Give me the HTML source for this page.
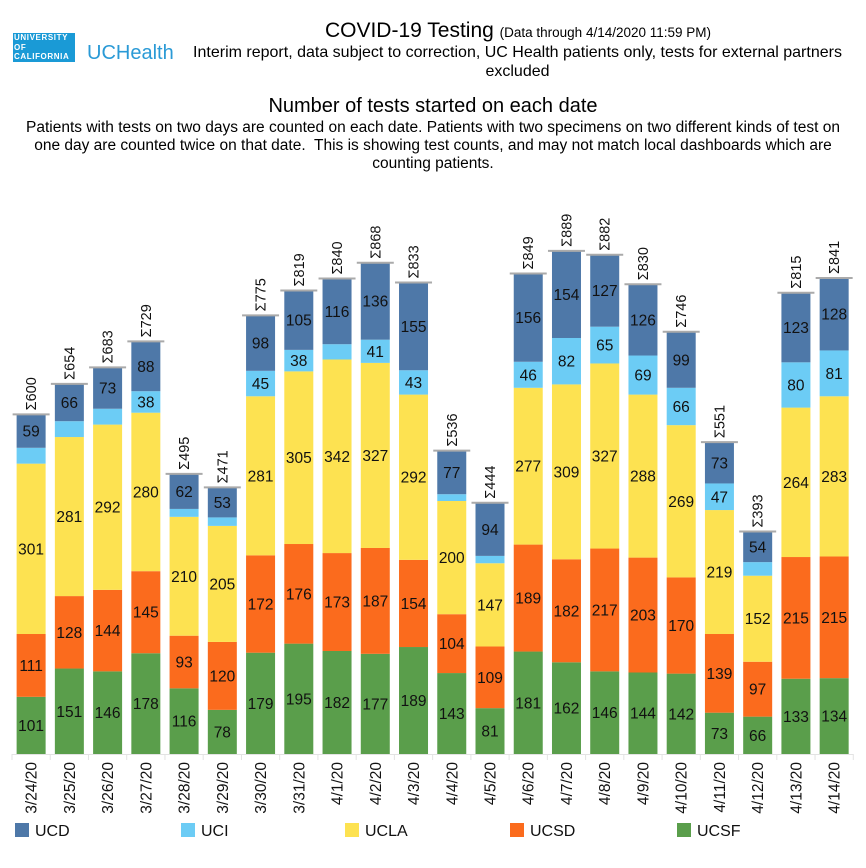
<!DOCTYPE html>
<html><head><meta charset="utf-8"><style>
body{margin:0;background:#fff;font-family:"Liberation Sans",sans-serif;}
#wrap{position:relative;width:866px;height:868px;overflow:hidden;}
.t{position:absolute;text-align:center;color:#000;white-space:nowrap;}
</style></head><body>
<div id="wrap">
<div style="position:absolute;left:13px;top:33px;width:61px;height:29px;background:#1a9ad6;color:#fff;font-size:8px;font-weight:bold;line-height:9.5px;letter-spacing:0.6px;padding-left:1px;">UNIVERSITY<br>OF<br>CALIFORNIA</div>
<div class="t" style="left:87px;top:42px;font-size:20px;color:#2a9ad6;">UCHealth</div>
<div class="t" style="left:218px;width:600px;top:19px;font-size:21px;">COVID-19 Testing <span style="font-size:13.5px">(Data through 4/14/2020 11:59 PM)</span></div>
<div class="t" style="left:185px;width:665px;top:43px;font-size:16px;line-height:19px;white-space:normal;">Interim report, data subject to correction, UC Health patients only, tests for external partners excluded</div>
<div class="t" style="left:0;width:866px;top:95px;font-size:20px;">Number of tests started on each date</div>
<div class="t" style="left:24px;width:818px;top:119px;font-size:15.5px;line-height:18px;white-space:normal;">Patients with tests on two days are counted on each date. Patients with two specimens on two different kinds of test on one day are counted twice on that date.&nbsp; This is showing test counts, and may not match local dashboards which are counting patients.</div>
<svg id="chart" width="866" height="868" style="position:absolute;left:0;top:0"></svg>
</div>
<script>
const dates=["3/24/20","3/25/20","3/26/20","3/27/20","3/28/20","3/29/20","3/30/20","3/31/20","4/1/20","4/2/20","4/3/20","4/4/20","4/5/20","4/6/20","4/7/20","4/8/20","4/9/20","4/10/20","4/11/20","4/12/20","4/13/20","4/14/20"];
const ucsf=[101,151,146,178,116,78,179,195,182,177,189,143,81,181,162,146,144,142,73,66,133,134];
const ucsd=[111,128,144,145,93,120,172,176,173,187,154,104,109,189,182,217,203,170,139,97,215,215];
const ucla=[301,281,292,280,210,205,281,305,342,327,292,200,147,277,309,327,288,269,219,152,264,283];
const uci=[28,28,28,38,14,15,45,38,27,41,43,12,13,46,82,65,69,66,47,24,80,81];
const ucd=[59,66,73,88,62,53,98,105,116,136,155,77,94,156,154,127,126,99,73,54,123,128];
const seriesNames=["UCSF","UCSD","UCLA","UCI","UCD"];
const seriesData=[ucsf,ucsd,ucla,uci,ucd];
const colors=["#5a9e4b","#fb6b1d","#fde251","#6cccf5","#4e78a8"];
const NS="http://www.w3.org/2000/svg";
const svg=document.getElementById('chart');
const baseY=754,scale=0.566,x0=12,slot=38.24,bw=29;
const xPos=i=>x0+i*slot+(slot-bw)/2;
const yLen=v=>v*scale;
function mk(tag,attrs){const e=document.createElementNS(NS,tag);for(const k in attrs)e.setAttribute(k,attrs[k]);svg.appendChild(e);return e;}
let ax=mk('line',{x1:x0,x2:x0+22*slot,y1:baseY+0.5,y2:baseY+0.5,stroke:'#e3e3e3'});


for(let i=0;i<=22;i++){const t=mk('line',{x1:x0+i*slot,x2:x0+i*slot,y1:baseY,y2:baseY+6,stroke:'#e3e3e3'});

}
dates.forEach((d,i)=>{
  let y=baseY,tot=0;const x=xPos(i);
  seriesData.forEach((s,k)=>{
    const v=s[i],h=yLen(v);y-=h;tot+=v;
    const r=mk('rect',{x:x,y:y,width:bw,height:h,fill:colors[k]});
    
    
    if(h>=17){const t=mk('text',{x:x+bw/2,y:y+h/2+5.5,'text-anchor':'middle','font-size':'15.5','font-family':'Liberation Sans, sans-serif',fill:'#111'});t.textContent=v;
    
    }
  });
  const l=mk('line',{x1:x-4,x2:x+bw+4,y1:y,y2:y,stroke:'#aaa','stroke-width':'2'});
  
  
  const tt=mk('text',{transform:`translate(${x+bw/2+5},${y-4}) rotate(-90)`,'font-size':'14.5','font-family':'Liberation Sans, sans-serif',fill:'#111'});tt.textContent='Σ'+tot;
  
  
  const dl=mk('text',{transform:`translate(${x+bw/2+5.5},${baseY+8}) rotate(-90)`,'text-anchor':'end','font-size':'15.5','font-family':'Liberation Sans, sans-serif',fill:'#111'});dl.textContent=d;
  
  
});
const legOrder=[4,3,2,1,0],legX=[15,181,345,510,677];
legOrder.forEach((k,j)=>{
  const r=mk('rect',{x:legX[j],y:823,width:14,height:14,fill:colors[k]});
  
  
  const t=mk('text',{x:legX[j]+20,y:836,'font-size':'16','font-family':'Liberation Sans, sans-serif',fill:'#111'});t.textContent=seriesNames[k];
  
  
});
</script>
</body></html>
